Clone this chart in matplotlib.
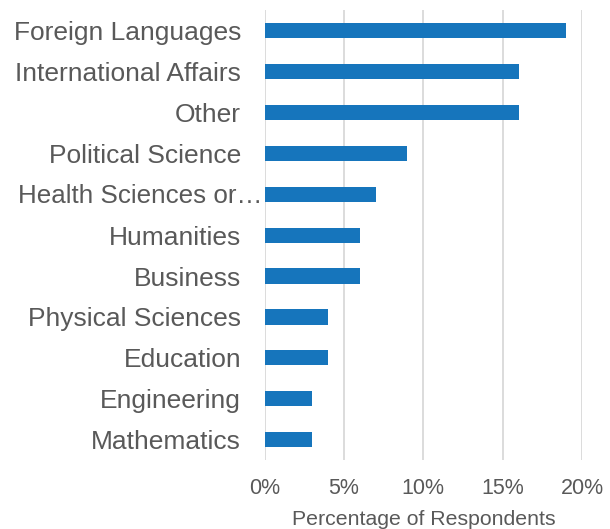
import matplotlib.pyplot as plt

plt.rcParams['font.family'] = ['Liberation Sans', 'DejaVu Sans']

# data (top to bottom as shown)
categories = ["Foreign Languages", "International Affairs", "Other", "Political Science",
              "Health Sciences or\u2026", "Humanities", "Business", "Physical Sciences",
              "Education", "Engineering", "Mathematics"]
values = [19, 16, 16, 9, 7, 6, 6, 4, 4, 3, 3]
x_ticks = [0, 5, 10, 15, 20]

fig = plt.figure(figsize=(6.1, 5.29), dpi=100)
ax = fig.add_axes([0.434, 0.13, 0.52, 0.851])

ypos = list(range(len(categories)))[::-1]
ax.barh(ypos, values, height=0.37, color='#1675BC', zorder=3)

ax.set_xlim(0, 20)
ax.set_ylim(-0.5, len(categories) - 0.5)
ax.set_xticks(x_ticks)
ax.set_xticklabels([f"{t}%" for t in x_ticks], fontsize=15.5, color='#595959')
ax.set_yticks(ypos)
# the truncated label sits flush against the axis, draw it separately
long_idx = 4
ax.set_yticklabels(["" if i == long_idx else c for i, c in enumerate(categories)],
                   fontsize=19, color='#595959')
ax.text(-0.007, ypos[long_idx] - 0.04, categories[long_idx], transform=ax.get_yaxis_transform(),
        ha='right', va='center', fontsize=18.7, color='#595959')
ax.tick_params(axis='both', length=0)
ax.tick_params(axis='x', pad=13)
ax.tick_params(axis='y', pad=17)

ax.grid(axis='x', color='#D9D9D9', linewidth=1.3, zorder=0)
for s in ax.spines.values():
    s.set_visible(False)

ax.set_xlabel("Percentage of Respondents", fontsize=15.3, color='#595959', labelpad=8)

fig.savefig("out.png", dpi=100)
